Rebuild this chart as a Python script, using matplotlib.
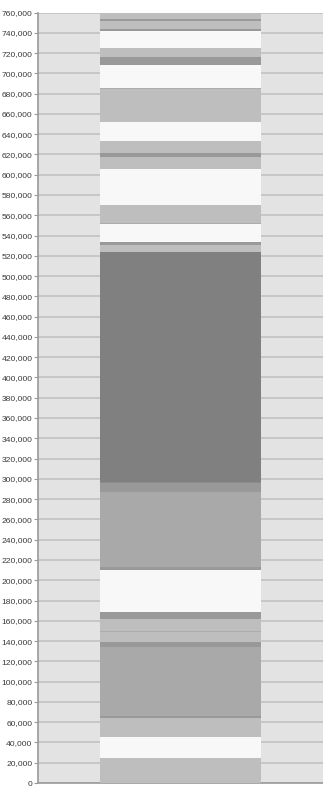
import matplotlib
matplotlib.use("Agg")
import matplotlib.pyplot as plt
from matplotlib.ticker import FuncFormatter, MultipleLocator

plt.rcParams['font.family'] = ['Liberation Sans', 'DejaVu Sans']

# One stacked column, segments listed from the bottom up
category = ["Total"]
segment_values = [
    25000, 20000, 19000, 2000, 68000, 5000, 10000, 1200, 12000, 6500,
    41300, 2700, 74100, 8800, 1700, 226900, 6600, 2600, 17700, 1600,
    17400, 35400, 11500, 4000, 11800, 18700, 32700, 1000, 22600, 8600,
    8200, 17200, 1500, 8400, 1500, 6800,
]
segment_shades = [
    "light", "white", "light", "band", "mid", "band", "light", "edge", "light", "band",
    "white", "band", "mid", "band", "edge2", "dark", "light", "band", "white", "edge",
    "light", "white", "light", "band", "light", "white", "light", "edge", "white", "band",
    "light", "white", "band", "light", "band", "light",
]
y_max = 760000
y_step = 20000

palette = {
    "white": "#f8f8f8",
    "light": "#bebebe",
    "mid": "#a9a9a9",
    "dark": "#808080",
    "band": "#999999",
    "edge": "#acacac",
    "edge2": "#8c8c8c",
}

fig = plt.figure(figsize=(3.23, 7.88), dpi=100)
fig.patch.set_facecolor("white")
ax = fig.add_axes([38 / 323, 5 / 788, 1 - 38 / 323, 770.5 / 788])
ax.set_facecolor("#e3e3e3")

bottom = 0
for val, shade in zip(segment_values, segment_shades):
    ax.bar(category, [val], bottom=bottom, width=0.565, color=palette[shade],
           edgecolor="none", linewidth=0, zorder=3)
    bottom += val

ax.set_xlim(-0.5, 0.5)
ax.set_ylim(0, y_max)
ax.yaxis.set_major_locator(MultipleLocator(y_step))
ax.yaxis.set_major_formatter(FuncFormatter(lambda v, p: f"{int(v):,}"))
ax.grid(axis="y", color="#c4c4c4", linewidth=1.3, zorder=1)
ax.set_axisbelow(True)
ax.set_xticks([])

for side in ("top", "right"):
    ax.spines[side].set_visible(False)
for side in ("left", "bottom"):
    ax.spines[side].set_color("#9a9a9a")
    ax.spines[side].set_linewidth(1.2)

ax.tick_params(axis="y", length=3, width=0.8, color="#9a9a9a", pad=1,
               labelsize=6.1, labelcolor="#3a3a3a")

fig.savefig("out.png", dpi=100, facecolor="white")
